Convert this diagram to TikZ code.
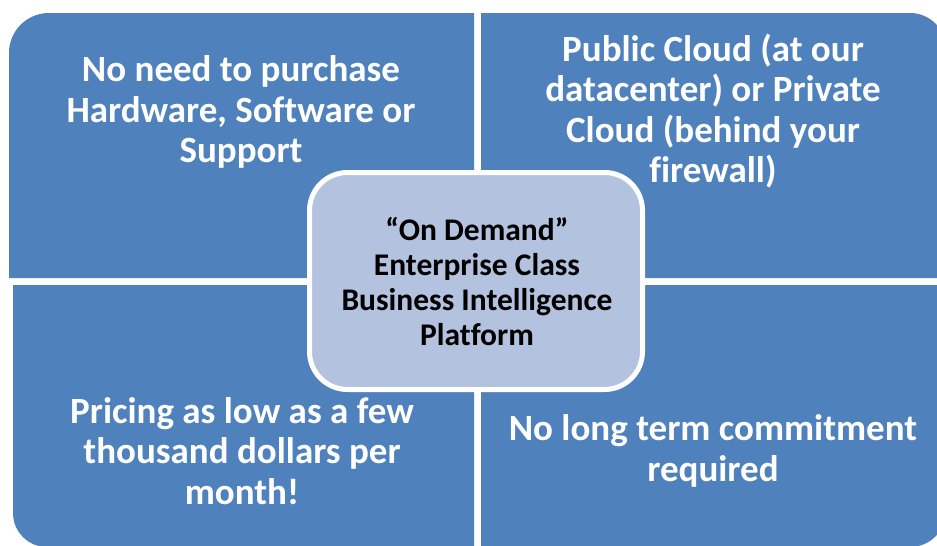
\documentclass[tikz,border=0pt]{standalone}
\usepackage{fontspec}
\setmainfont{Carlito}[Ligatures=CommonOff]
\definecolor{quad}{HTML}{4F81BD}
\definecolor{centerfill}{HTML}{B3C2DE}
\begin{document}
\begin{tikzpicture}[x=1pt,y=-1pt,
  quadtext/.style={text=white,font=\fontsize{37}{40.5}\selectfont\bfseries,align=center},
  centertext/.style={text=black,font=\fontsize{31.5}{35}\selectfont\bfseries,align=center}]
\useasboundingbox (0,0) rectangle (937,546);
\begin{scope}
\clip (0,0) rectangle (937,546);
% quadrants (only the outer corner is rounded)
\fill[quad] (9,278) -- (9,53) .. controls (9,30.9) and (26.9,13) .. (49,13) -- (474,13) -- (474,278) -- cycle;
\fill[quad] (481,278) -- (481,13) -- (910,13) .. controls (929.9,13) and (946,29.1) .. (946,49) -- (946,278) -- cycle;
\fill[quad] (474,285) -- (13,285) -- (13,513) .. controls (13,531.8) and (28.2,547) .. (47,547) -- (474,547) -- cycle;
\fill[quad] (481,285) -- (946,285) -- (946,511) .. controls (946,530.9) and (929.9,547) .. (910,547) -- (481,547) -- cycle;
\end{scope}
% center box
\draw[white,line width=5,fill=centerfill,rounded corners=38] (309.5,172.5) rectangle (642.5,389.5);
\node[quadtext] (tl) at (241,112) {No need to purchase\\Hardware, Software or\\Support};
\node[quadtext] (tr) at (713,111) {Public Cloud (at our\\datacenter) or Private\\Cloud (behind your\\firewall)};
\node[quadtext] (bl) at (242,451) {Pricing as low as a few\\thousand dollars per\\month!};
\node[quadtext] (br) at (713,451) {No long term commitment\\required};
\node[centertext] (c) at (477,281) {“On Demand”\\Enterprise Class\\Business Intelligence\\Platform};
\end{tikzpicture}
\end{document}
